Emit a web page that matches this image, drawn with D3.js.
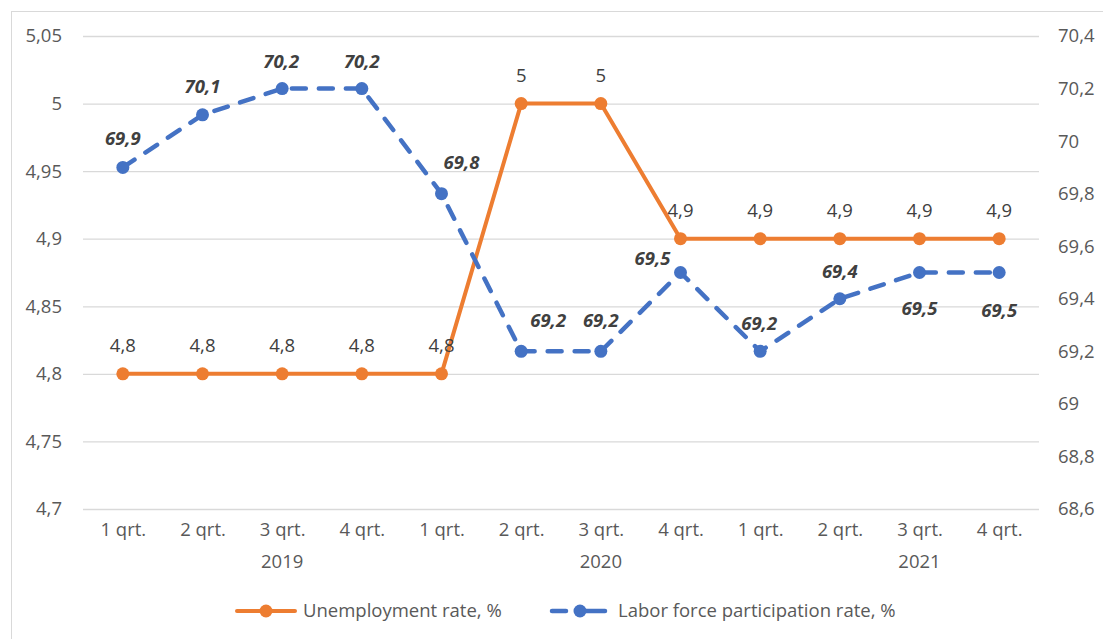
<!DOCTYPE html>
<html><head><meta charset="utf-8">
<script src="https://cdn.jsdelivr.net/npm/d3@7"></script>
<style>
body{margin:0;background:#fff;}
svg{display:block;font-family:"Open Sans", sans-serif;}
</style></head>
<body><svg id="c" width="1103" height="639"></svg>
<script>
const categories = ["1 qrt.","2 qrt.","3 qrt.","4 qrt.","1 qrt.","2 qrt.","3 qrt.","4 qrt.","1 qrt.","2 qrt.","3 qrt.","4 qrt."];
const years = ["2019","2020","2021"];
const yearIndex = [2, 6, 10];
const unemployment = [4.8,4.8,4.8,4.8,4.8,5,5,4.9,4.9,4.9,4.9,4.9];
const participation = [69.9,70.1,70.2,70.2,69.8,69.2,69.2,69.5,69.2,69.4,69.5,69.5];
const leftTicks = [4.7,4.75,4.8,4.85,4.9,4.95,5,5.05];
const rightTicks = [68.6,68.8,69,69.2,69.4,69.6,69.8,70,70.2,70.4];
const seriesNames = ["Unemployment rate, %","Labor force participation rate, %"];
// label offsets (style)
const partLabelOffset = [[0,-29],[0,-28],[-1,-27],[0,-27],[20,-31],[27,-31],[0,-31],[-28,-14],[-1,-28],[0,-27],[0,36],[0,38]];

const fmt = d => String(+d.toFixed(2)).replace('.', ',');
const FS = "18.5px";
const svg = d3.select("#c");
const L = 83, R = 1039, T = 36, B = 509;
const x = d3.scalePoint().domain(d3.range(categories.length)).range([L,R]).padding(0.5);
const yL = d3.scaleLinear().domain([4.7,5.05]).range([B,T]);
const yR = d3.scaleLinear().domain([68.6,70.4]).range([B,T]);
const orange = "#ED7D31", blue = "#4472C4", txt = "#595959", lab = "#404040";

svg.append("rect").attr("x",11.5).attr("y",11.5).attr("width",1200).attr("height",800)
  .attr("fill","none").attr("stroke","#d9d9d9").attr("stroke-width",1);

// left axis with gridlines
const gL = svg.append("g").attr("transform",`translate(${L},0)`)
  .call(d3.axisLeft(yL).tickValues(leftTicks).tickFormat(fmt).tickSize(-(R-L)).tickPadding(21));
gL.select(".domain").remove();
gL.selectAll(".tick line").attr("stroke","#d9d9d9").attr("stroke-width",1.3);
gL.selectAll(".tick text").attr("fill",txt).style("font-size",FS).style("font-family","Open Sans");

const gR = svg.append("g").attr("transform",`translate(${R},0)`)
  .call(d3.axisRight(yR).tickValues(rightTicks).tickFormat(fmt).tickSize(0).tickPadding(19));
gR.select(".domain").remove();
gR.selectAll(".tick text").attr("fill",txt).style("font-size",FS).style("font-family","Open Sans");

// x axis labels
const gX = svg.append("g").attr("transform",`translate(0,${B})`)
  .call(d3.axisBottom(x).tickFormat(i=>categories[i]).tickSize(0).tickPadding(14));
gX.select(".domain").remove();
gX.selectAll(".tick text").attr("fill",txt).style("font-size",FS).style("font-family","Open Sans");
svg.append("g").selectAll("text").data(years).join("text")
  .attr("x",(d,i)=>x(yearIndex[i])).attr("y",568).attr("text-anchor","middle")
  .attr("fill",txt).style("font-size",FS).text(d=>d);

// unemployment line
const lineL = d3.line().x((d,i)=>x(i)).y(d=>yL(d));
svg.append("path").attr("d",lineL(unemployment)).attr("fill","none").attr("stroke",orange)
  .attr("stroke-width",4).attr("stroke-linejoin","round").attr("stroke-linecap","round");
svg.append("g").selectAll("circle").data(unemployment).join("circle")
  .attr("cx",(d,i)=>x(i)).attr("cy",d=>yL(d)).attr("r",6.5).attr("fill",orange);

// participation line
const lineR = d3.line().x((d,i)=>x(i)).y(d=>yR(d));
svg.append("path").attr("d",lineR(participation)).attr("fill","none").attr("stroke",blue)
  .attr("stroke-width",4.5).attr("stroke-dasharray","14,13").attr("stroke-linecap","round").attr("stroke-linejoin","round");
svg.append("g").selectAll("circle").data(participation).join("circle")
  .attr("cx",(d,i)=>x(i)).attr("cy",d=>yR(d)).attr("r",6.5).attr("fill",blue);

// labels
svg.append("g").selectAll("text").data(unemployment).join("text")
  .attr("x",(d,i)=>x(i)).attr("y",d=>yL(d)-28).attr("dy","0.35em").attr("text-anchor","middle")
  .attr("fill",lab).style("font-size",FS).text(fmt);
svg.append("g").selectAll("text").data(participation).join("text")
  .attr("x",(d,i)=>x(i)+partLabelOffset[i][0]).attr("y",(d,i)=>yR(d)+partLabelOffset[i][1]).attr("dy","0.35em")
  .attr("text-anchor","middle").attr("fill",lab).style("font-size",FS).style("font-weight","bold").style("font-style","italic").text(fmt);

// legend
const lg = svg.append("g");
lg.append("line").attr("x1",237).attr("x2",295).attr("y1",611).attr("y2",611).attr("stroke",orange).attr("stroke-width",4).attr("stroke-linecap","round");
lg.append("circle").attr("cx",266).attr("cy",611).attr("r",6.5).attr("fill",orange);
lg.append("text").attr("x",303).attr("y",611).attr("dy","0.35em").attr("fill",txt).style("font-size",FS).text(seriesNames[0]);
lg.append("line").attr("x1",552).attr("x2",566).attr("y1",611).attr("y2",611).attr("stroke",blue).attr("stroke-width",4.5).attr("stroke-linecap","round");
lg.append("line").attr("x1",580).attr("x2",605).attr("y1",611).attr("y2",611).attr("stroke",blue).attr("stroke-width",4.5).attr("stroke-linecap","round");
lg.append("circle").attr("cx",580).attr("cy",611).attr("r",6.5).attr("fill",blue);
lg.append("text").attr("x",618).attr("y",611).attr("dy","0.35em").attr("fill",txt).style("font-size",FS).text(seriesNames[1]);
</script></body></html>
